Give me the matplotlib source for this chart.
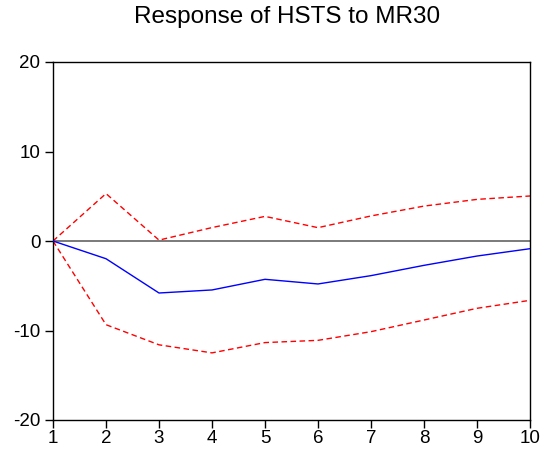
import matplotlib
matplotlib.use("Agg")
import matplotlib.pyplot as plt

periods = [1, 2, 3, 4, 5, 6, 7, 8, 9, 10]
response = [0.0, -1.98, -5.81, -5.47, -4.28, -4.80, -3.87, -2.72, -1.68, -0.86]
upper = [0.0, 5.30, 0.10, 1.50, 2.75, 1.49, 2.80, 3.90, 4.65, 5.03]
lower = [0.0, -9.35, -11.60, -12.50, -11.35, -11.10, -10.13, -8.83, -7.52, -6.63]
yticks = [-20, -10, 0, 10, 20]
title = "Response of HSTS to MR30"

plt.rcParams['font.family'] = ['Liberation Sans', 'DejaVu Sans']
plt.rcParams['axes.unicode_minus'] = False

fig = plt.figure(figsize=(5.44, 4.57), dpi=100)
ax = fig.add_axes([53/544, 37/457, 477/544, 358/457])

ax.axhline(0, color='#707070', lw=1.3, zorder=1)
ax.plot(periods, response, color='#0000ff', lw=1.0, zorder=3)
ax.plot(periods, upper, color='#ff0000', lw=1.0, dashes=(4, 2.5), zorder=2)
ax.plot(periods, lower, color='#ff0000', lw=1.0, dashes=(4, 2.5), zorder=2)

ax.set_xlim(1, 10)
ax.set_ylim(-20, 20)
ax.set_xticks(periods)
ax.set_yticks(yticks)
ax.tick_params(direction='out', length=5.5, width=1, labelsize=13.5, colors='black')
ax.tick_params(axis='y', pad=3.5)
ax.tick_params(axis='x', pad=2)
for s in ax.spines.values():
    s.set_linewidth(1.0)
    s.set_color('black')

fig.text(287/544, 1 - 17/457, title, ha='center', va='center', fontsize=17.5)

fig.savefig("out.png", dpi=100)
